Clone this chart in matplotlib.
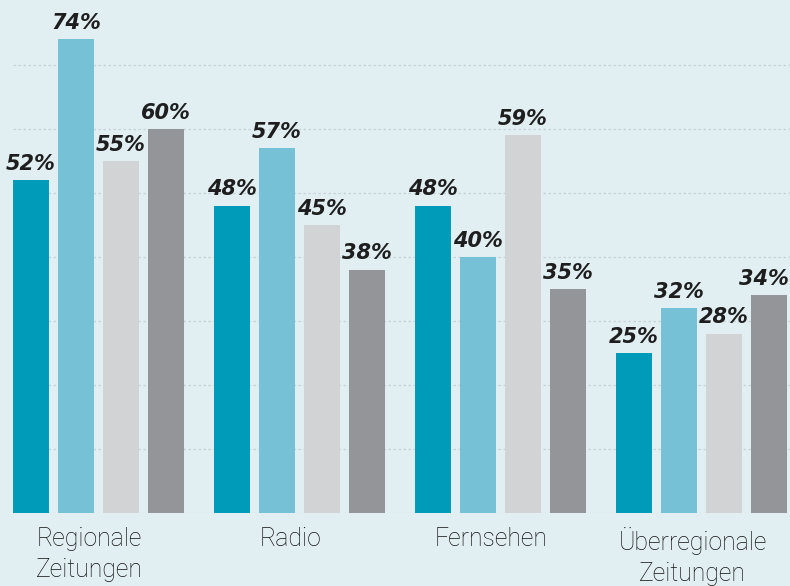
import numpy as np
import matplotlib.pyplot as plt
import matplotlib.transforms as mtransforms

# categories and the four series (values in %)
categories = ["Regionale\nZeitungen", "Radio", "Fernsehen", "Überregionale\nZeitungen"]
series_a = [52, 48, 48, 25]
series_b = [74, 57, 40, 32]
series_c = [55, 45, 59, 28]
series_d = [60, 38, 35, 34]

colors = ["#009bb9", "#77c1d6", "#d2d3d5", "#949599"]
bg = "#e1eef2"

fig = plt.figure(figsize=(7.9, 5.86), dpi=100, facecolor=bg)
ax = fig.add_axes([13 / 790, 73 / 586, 777 / 790, 512 / 586], facecolor=bg)

x = np.arange(len(categories))
width = 36 / 201
pitch = 45 / 201

for i, vals in enumerate([series_a, series_b, series_c, series_d]):
    pos = x + (i - 1.5) * pitch
    ax.bar(pos, vals, width=width, color=colors[i], zorder=3)
    for px, v in zip(pos, vals):
        # keep the last label inside the figure edge
        tx = min(px, 3 + 62 / 201)
        ax.text(tx, v + 1.0, f"{v}%", ha="center", va="bottom",
                fontsize=15, fontweight="bold", fontstyle="italic",
                family="DejaVu Sans", color="#1e1e1e", zorder=4, clip_on=False)

ax.set_xlim(-85.5 / 201, 3 + 88.5 / 201)
ax.set_ylim(0, 80)
for gy in range(0, 80, 10):
    ax.axhline(gy, color="#c5d2d6", linestyle=(0, (2, 2)), linewidth=0.9, zorder=1)

ax.set_yticks([])
ax.set_xticks(x)
ax.set_xticklabels(categories, family="Roboto", fontweight="light",
                   fontsize=17.8, color="#111111", linespacing=1.4)
ax.tick_params(axis="x", length=0, pad=10)
# labels sit a little left of the group centres
shift = mtransforms.ScaledTranslation(-9 / 100, 0, fig.dpi_scale_trans)
for lbl in ax.get_xticklabels():
    lbl.set_transform(lbl.get_transform() + shift)
for s in ax.spines.values():
    s.set_visible(False)

fig.savefig("out.png", dpi=100, facecolor=bg)
